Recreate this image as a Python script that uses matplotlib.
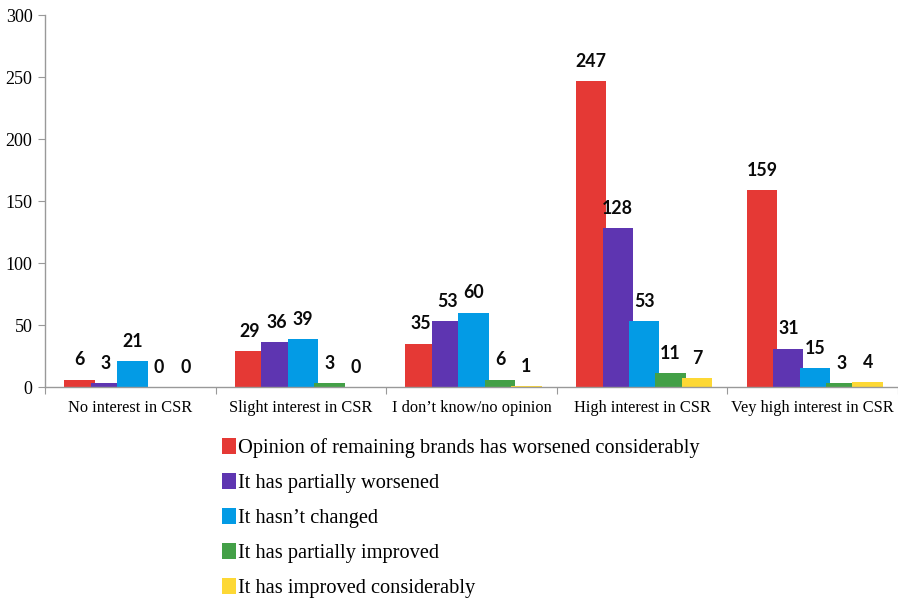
import matplotlib
matplotlib.use("Agg")
import matplotlib.pyplot as plt
import numpy as np
from matplotlib.patches import Patch

categories = ["No interest in CSR", "Slight interest in CSR", "I don\u2019t know/no opinion",
              "High interest in CSR", "Vey high interest in CSR"]
series_names = ["Opinion of remaining brands has worsened considerably",
                "It has partially worsened",
                "It hasn\u2019t changed",
                "It has partially improved",
                "It has improved considerably"]
worsened_considerably = [6, 29, 35, 247, 159]
partially_worsened = [3, 36, 53, 128, 31]
not_changed = [21, 39, 60, 53, 15]
partially_improved = [0, 3, 6, 11, 3]
improved_considerably = [0, 0, 1, 7, 4]
series_values = [worsened_considerably, partially_worsened, not_changed,
                 partially_improved, improved_considerably]
colors = ["#E53935", "#5E35B1", "#039BE5", "#43A047", "#FDD835"]
y_ticks = [0, 50, 100, 150, 200, 250, 300]

serif = "Liberation Serif"
label_font = "Lato"

fig = plt.figure(figsize=(8.98, 5.98), dpi=100)
ax = fig.add_axes([45 / 898, 1 - 387 / 598, 853 / 898, 372 / 598])

x = np.arange(len(categories)) + 0.5
step = 0.155
width = 0.178
for i, (vals, col) in enumerate(zip(series_values, colors)):
    pos = x + (i - 2) * step + 0.012
    ax.bar(pos, vals, width=width, color=col, edgecolor="none", zorder=2)
    for p, v in zip(pos, vals):
        ax.annotate(str(v), (p, v), xytext=(0, 8), textcoords="offset points",
                    ha="center", va="bottom", fontsize=12.8, fontweight="bold",
                    family=label_font, color="#0a0a0a")

ax.set_xlim(0, len(categories))
ax.set_ylim(0, 300)
ax.set_yticks(y_ticks)
ax.set_yticklabels([str(t) for t in y_ticks], family=serif, fontsize=13)

ax.set_xticks(np.arange(len(categories) + 1))
ax.set_xticklabels([])
ax.set_xticks(x, minor=True)
ax.set_xticklabels(categories, minor=True, family=serif, fontsize=11.8)
ax.tick_params(axis="x", which="minor", length=0, pad=9)
ax.tick_params(axis="x", which="major", length=5, color="#999999", direction="out")
ax.tick_params(axis="y", length=5, color="#999999", direction="out", pad=4)

for s in ["top", "right"]:
    ax.spines[s].set_visible(False)
for s in ["left", "bottom"]:
    ax.spines[s].set_color("#999999")
    ax.spines[s].set_linewidth(1.0)

handles = [Patch(facecolor=c, edgecolor="none") for c in colors]
fig.legend(handles, series_names, loc="upper left",
           bbox_to_anchor=(222 / 898, 1 - 438 / 598), frameon=False,
           prop={"family": serif, "size": 14.7}, handlelength=0.68, handleheight=0.85,
           handletextpad=0.12, labelspacing=0.72, borderaxespad=0, borderpad=0)

fig.savefig("out.png", dpi=100)
